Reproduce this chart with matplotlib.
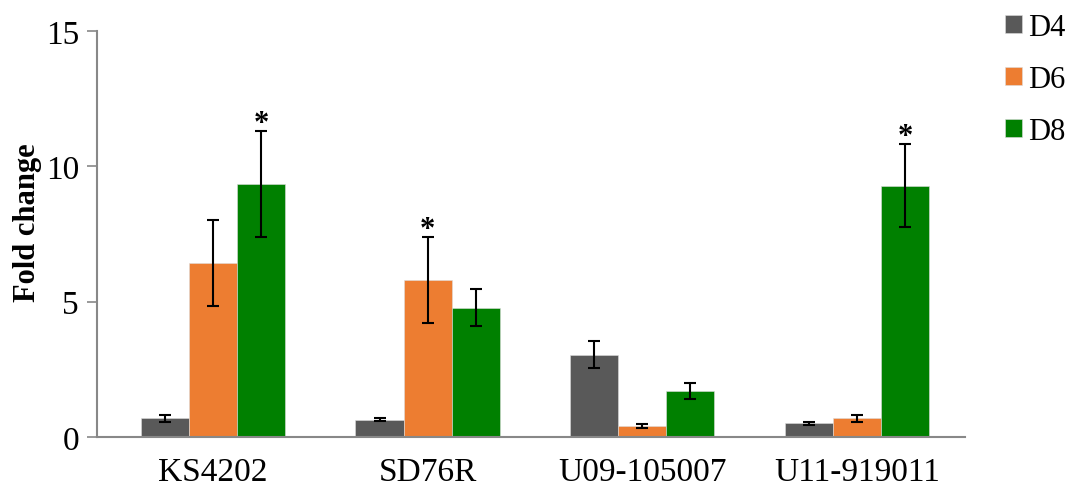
import numpy as np
import matplotlib
matplotlib.use('Agg')
import matplotlib.pyplot as plt

plt.rcParams['font.family'] = ['Liberation Serif', 'DejaVu Serif']

strains = ['KS4202', 'SD76R', 'U09-105007', 'U11-919011']
days = ['D4', 'D6', 'D8']
colors = ['#595959', '#ED7D31', '#008000']

# fold change values and error bars
d4 = [0.69, 0.64, 3.04, 0.50]
d6 = [6.43, 5.81, 0.41, 0.70]
d8 = [9.35, 4.77, 1.70, 9.28]
d4_err = [0.13, 0.06, 0.50, 0.04]
d6_err = [1.60, 1.58, 0.08, 0.13]
d8_err = [1.95, 0.68, 0.30, 1.53]

# significant bars: (strain index, day index)
stars = [(0, 2), (1, 1), (3, 2)]

vals = [d4, d6, d8]
errs = [d4_err, d6_err, d8_err]

fig = plt.figure(figsize=(10.7, 4.89), dpi=100)
ax = fig.add_axes([97/1070, 1-438/489, (965-97)/1070, (438-32)/489])

x = np.arange(len(strains))
w = 0.224
for i in range(3):
    ax.bar(x + (i-1)*w, vals[i], w, color=colors[i], label=days[i],
           edgecolor='#dddddd', linewidth=0.4, zorder=2)
    ax.errorbar(x + (i-1)*w, vals[i], yerr=errs[i], fmt='none', ecolor='black',
                elinewidth=1.5, capsize=4.5, capthick=1.5, zorder=3)

for s, d in stars:
    top = vals[d][s] + errs[d][s]
    ax.text(s + (d-1)*w, top - 0.25, '*', ha='center', va='bottom', fontsize=22,
            fontweight='bold')

ax.set_xlim(-0.54, 3.503)
ax.set_ylim(0, 15)
ax.set_yticks([0, 5, 10, 15])
ax.set_xticks(x)
ax.set_xticklabels(strains, fontsize=24)
ax.tick_params(axis='y', labelsize=24, length=7, color='#888888', width=1.2, pad=6)
ax.tick_params(axis='x', length=0, pad=14)
ax.set_ylabel('Fold change', fontsize=22, fontweight='bold')
ax.yaxis.set_label_coords(-0.063, 0.53)
for sp in ['top', 'right']:
    ax.spines[sp].set_visible(False)
for sp in ['left', 'bottom']:
    ax.spines[sp].set_color('#888888')
    ax.spines[sp].set_linewidth(1.5)

fig.legend(loc='upper left', bbox_to_anchor=(0.914, 1.028), frameon=False,
           fontsize=22, handlelength=0.55, handleheight=0.55, labelspacing=0.75,
           handletextpad=0.2)

fig.savefig('out.png', dpi=100)
